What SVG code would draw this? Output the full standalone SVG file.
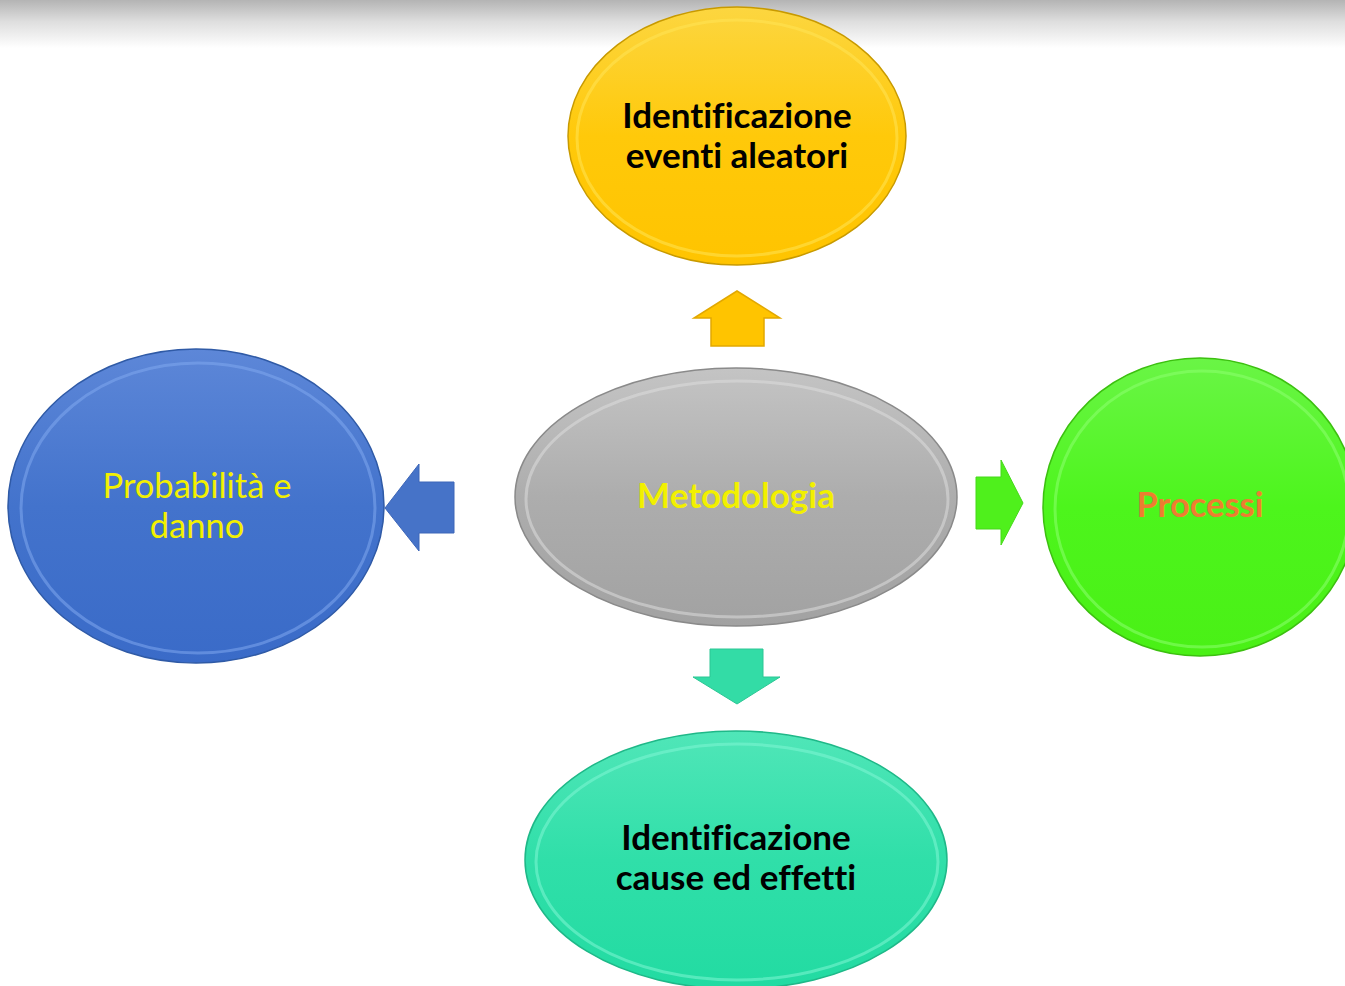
<svg xmlns="http://www.w3.org/2000/svg" width="1345" height="986" viewBox="0 0 1345 986">
<defs>
<linearGradient id="topShade" x1="0" y1="0" x2="0" y2="1">
<stop offset="0" stop-color="#b4b4b4"/>
<stop offset="0.45" stop-color="#dedede"/>
<stop offset="1" stop-color="#ffffff"/>
</linearGradient>
<linearGradient id="gY" x1="0" y1="0" x2="0" y2="1"><stop offset="0" stop-color="#fcd640"/><stop offset="0.5" stop-color="#ffc90a"/><stop offset="1" stop-color="#ffc400"/></linearGradient>
<linearGradient id="gG" x1="0" y1="0" x2="0" y2="1"><stop offset="0" stop-color="#c4c4c4"/><stop offset="0.5" stop-color="#adadad"/><stop offset="1" stop-color="#a2a2a2"/></linearGradient>
<linearGradient id="gB" x1="0" y1="0" x2="0" y2="1"><stop offset="0" stop-color="#5d87d8"/><stop offset="0.5" stop-color="#4373cc"/><stop offset="1" stop-color="#3a6bc8"/></linearGradient>
<linearGradient id="gL" x1="0" y1="0" x2="0" y2="1"><stop offset="0" stop-color="#6af546"/><stop offset="0.5" stop-color="#4df51c"/><stop offset="1" stop-color="#4af016"/></linearGradient>
<linearGradient id="gT" x1="0" y1="0" x2="0" y2="1"><stop offset="0" stop-color="#50e6b8"/><stop offset="0.5" stop-color="#30dfa9"/><stop offset="1" stop-color="#22dba2"/></linearGradient>
</defs>
<style>
.rim{fill:none;stroke-width:3;opacity:0.55}
.t{font-family:Lato,"Open Sans","Liberation Sans",sans-serif;text-anchor:middle;font-variant-ligatures:none;font-feature-settings:"liga" 0,"clig" 0}
.b{font-weight:bold}
</style>
<rect x="0" y="0" width="1345" height="48" fill="url(#topShade)"/>

<g id="connectors">
<path d="M737,291 L780,318 L764,318 L764,346 L711,346 L711,318 L694,318 Z" fill="#ffc400" stroke="#e2a800" stroke-width="1.5"/>
<path d="M385,508 L419,464 L419,482 L454,482 L454,533 L419,533 L419,551 Z" fill="#4673c8" stroke="#3d66b8" stroke-width="1"/>
<path d="M1023,503 L1001,460 L1001,477 L976,477 L976,529 L1001,529 L1001,545 Z" fill="#4ff01c" stroke="#46d81a" stroke-width="1"/>
<path d="M737,704 L780,677 L763,677 L763,649 L710,649 L710,677 L693,677 Z" fill="#33dca6" stroke="#2cc694" stroke-width="1"/>
</g>

<g id="node-top">
<ellipse cx="737" cy="136" rx="169" ry="129" fill="url(#gY)" stroke="#c89a00" stroke-width="1.5"/>
<ellipse cx="737" cy="138" rx="160" ry="118" class="rim" stroke="#ffe356"/>
<text class="t b" x="737" y="128" font-size="35" fill="#000">Identificazione</text>
<text class="t b" x="737" y="168" font-size="35" fill="#000">eventi aleatori</text>
</g>

<g id="node-center">
<ellipse cx="736" cy="497" rx="221" ry="129" fill="url(#gG)" stroke="#8a8a8a" stroke-width="1.5"/>
<ellipse cx="737" cy="499" rx="211" ry="118" class="rim" stroke="#dcdcdc"/>
<text class="t b" x="736" y="508" font-size="35" fill="#f2f000">Metodologia</text>
</g>

<g id="node-left">
<ellipse cx="196" cy="506" rx="188" ry="157" fill="url(#gB)" stroke="#2f5aa6" stroke-width="1.5"/>
<ellipse cx="198" cy="508" rx="177" ry="145" class="rim" stroke="#7fa8ee"/>
<text class="t" x="197" y="498" font-size="34.5" fill="#f2f000">Probabilità e</text>
<text class="t" x="197" y="538" font-size="34.5" fill="#f2f000">danno</text>
</g>

<g id="node-right">
<ellipse cx="1200" cy="507" rx="157" ry="149" fill="url(#gL)" stroke="#3cc010" stroke-width="1.5"/>
<ellipse cx="1202" cy="509" rx="147" ry="138" class="rim" stroke="#8cff70"/>
<text class="t b" x="1200" y="517" font-size="34.5" fill="#ed7d31">Processi</text>
</g>

<g id="node-bottom">
<ellipse cx="736" cy="860" rx="211" ry="129" fill="url(#gT)" stroke="#1fb888" stroke-width="1.5"/>
<ellipse cx="737" cy="862" rx="201" ry="118" class="rim" stroke="#80f5d4"/>
<text class="t b" x="736" y="850" font-size="35" fill="#000">Identificazione</text>
<text class="t b" x="736" y="890" font-size="35" fill="#000">cause ed effetti</text>
</g>
</svg>
